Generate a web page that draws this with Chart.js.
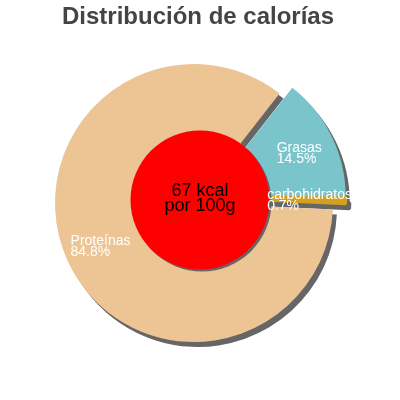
<!DOCTYPE html>
<html>
<head>
<meta charset="utf-8">
<title>Distribución de calorías</title>
<script src="https://cdn.jsdelivr.net/npm/chart.js@4.4.0/dist/chart.umd.min.js"></script>
<style>
  html, body { margin: 0; padding: 0; background: #fff; }
  canvas { display: block; }
</style>
</head>
<body>
<canvas id="chart" width="400" height="400"></canvas>
<script>
// data
var labels = ['Grasas', 'carbohidratos', 'Proteínas'];
var values = [14.5, 0.7, 84.8];
var kcal = 67;
var titleText = 'Distribución de calorías';
var centerLines = [kcal + ' kcal', 'por 100g'];

var colors = ['#7ac4cc', '#d4a020', '#edc594'];
var exploded = [0, 1];   // these slices are pulled out together
var FONT = '"Liberation Sans", Arial, sans-serif';

// the pulled-out group moves along the middle of its own angle range
function shiftFor(i, meta) {
  if (exploded.indexOf(i) < 0) return { x: 0, y: 0 };
  var start = Infinity, end = -Infinity;
  exploded.forEach(function (j) {
    start = Math.min(start, meta.data[j].startAngle);
    end = Math.max(end, meta.data[j].endAngle);
  });
  var mid = (start + end) / 2;
  return { x: Math.cos(mid) * 14, y: Math.sin(mid) * 14 };
}

var calPlugin = {
  id: 'calorias',
  beforeDatasetDraw: function (chart, args) {
    var ctx = chart.ctx, meta = args.meta;
    // shadow pass first, then the slices on top
    [true, false].forEach(function (shadow) {
      meta.data.forEach(function (arc, i) {
        var s = shiftFor(i, meta);
        ctx.save();
        ctx.translate(s.x + (shadow ? 4 : 0), s.y + (shadow ? 5 : 0));
        if (shadow) {
          var o = arc.options;
          arc.options = Object.assign({}, o, { backgroundColor: '#666666', borderColor: '#666666' });
          arc.draw(ctx);
          arc.options = o;
        } else {
          arc.draw(ctx);
        }
        ctx.restore();
      });
    });
    return false;
  },
  afterDatasetsDraw: function (chart) {
    var ctx = chart.ctx, meta = chart.getDatasetMeta(0);
    var cx = chart.width / 2, cy = chart.height / 2;
    var r = meta.data[0].outerRadius / 2;

    ctx.save();
    // red disc with its shadow
    ctx.fillStyle = '#666666';
    ctx.beginPath(); ctx.arc(cx + 2, cy + 2, r, 0, Math.PI * 2); ctx.fill();
    ctx.fillStyle = '#ff0000';
    ctx.beginPath(); ctx.arc(cx, cy, r, 0, Math.PI * 2); ctx.fill();

    ctx.fillStyle = '#000';
    ctx.font = '18px ' + FONT;
    ctx.textAlign = 'center';
    ctx.textBaseline = 'alphabetic';
    ctx.fillText(centerLines[0], cx, cy - 4);
    ctx.fillText(centerLines[1], cx, cy + 11);

    // slice labels
    ctx.font = '14px ' + FONT;
    ctx.textAlign = 'left';
    ctx.fillStyle = '#fff';
    meta.data.forEach(function (arc, i) {
      var s = shiftFor(i, meta);
      var mid = (arc.startAngle + arc.endAngle) / 2;
      var rr = arc.outerRadius * 0.74;
      var lx = arc.x + s.x + Math.cos(mid) * rr;
      var ly = arc.y + s.y + Math.sin(mid) * rr;
      var lines = [labels[i], values[i].toFixed(1) + '%'];
      var w = Math.max(ctx.measureText(lines[0]).width, ctx.measureText(lines[1]).width);
      ctx.fillText(lines[0], lx - w / 2, ly - 0.5);
      ctx.fillText(lines[1], lx - w / 2, ly + 10.5);
    });

    // title
    ctx.font = 'bold 24px ' + FONT;
    ctx.fillStyle = '#444444';
    ctx.textAlign = 'center';
    ctx.fillText(titleText, cx - 2, 24);
    ctx.restore();
  }
};

var ctx = document.getElementById('chart').getContext('2d');

var myChart = new Chart(ctx, {
  type: 'pie',
  data: {
    labels: labels,
    datasets: [{
      data: values,
      backgroundColor: colors,
      borderColor: colors,
      borderWidth: [0, 3, 0]
    }]
  },
  options: {
    responsive: false,
    animation: false,
    events: [],
    rotation: 38,
    radius: 139,
    layout: { padding: { left: 0, right: 12, top: 60, bottom: 54 } },
    plugins: {
      legend: { display: false },
      tooltip: { enabled: false }
    }
  },
  plugins: [calPlugin]
});
</script>
</body>
</html>
